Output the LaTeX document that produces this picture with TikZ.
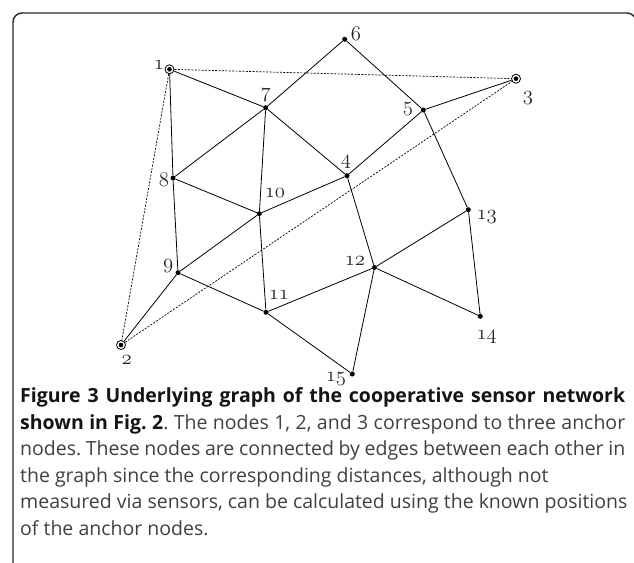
\documentclass[tikz,border=0pt]{standalone}
\usepackage{fontspec}
\newfontfamily\capfont{Open Sans}
\newcommand{\osn}[1]{{\fontsize{20}{24}\usefont{OML}{cmm}{m}{it}#1}}
\frenchspacing
\begin{document}
\begin{tikzpicture}[x=1pt,y=-1pt,
  sensor/.style={circle,fill=black,inner sep=0pt,minimum size=5pt},
  anchornode/.style={circle,draw=black,line width=0.8pt,inner sep=0pt,minimum size=9pt,
    path picture={\fill[black] (path picture bounding box.center) circle (2.3pt);}},
  lbl/.style={text=black!85, inner sep=0pt},
  edge/.style={line width=0.8pt},
  dedge/.style={line width=0.7pt, dash pattern=on 2pt off 1.4pt},
  capline/.style={anchor=base west, inner sep=0pt, font=\capfont\fontsize{19.5}{24}\selectfont\frenchspacing, text=black!75},
  frame/.style={line width=1.4pt, draw=black!85, rounded corners=9pt}]
\clip (0,0) rectangle (634,562);
\fill[white] (0,0) rectangle (634,562);
\draw[frame] (13,13) rectangle (636,640);

% nodes
\node[anchornode] (n1) at (169.5,69.3) {};
\node[anchornode] (n2) at (121,345) {};
\node[anchornode] (n3) at (516,78.7) {};
\node[sensor] (n4) at (347,175.7) {};
\node[sensor] (n5) at (423.3,110) {};
\node[sensor] (n6) at (344.7,39.3) {};
\node[sensor] (n7) at (265.7,107.7) {};
\node[sensor] (n8) at (173,178) {};
\node[sensor] (n9) at (178,272.7) {};
\node[sensor] (n10) at (259.3,213.7) {};
\node[sensor] (n11) at (266,312.3) {};
\node[sensor] (n12) at (374.5,267.5) {};
\node[sensor] (n13) at (468.3,209.7) {};
\node[sensor] (n14) at (480.3,316.3) {};
\node[sensor] (n15) at (352.3,374) {};

% labels
\node[lbl] (l1) at (159,65) {\osn{1}};
\node[lbl] (l2) at (126.7,360) {\osn{2}};
\node[lbl] (l3) at (528,98) {\osn{3}};
\node[lbl] (l4) at (346,162) {\osn{4}};
\node[lbl] (l5) at (408,109) {\osn{5}};
\node[lbl] (l6) at (356,34) {\osn{6}};
\node[lbl] (l7) at (265.7,95) {\osn{7}};
\node[lbl] (l8) at (164,180) {\osn{8}};
\node[lbl] (l9) at (168.3,266) {\osn{9}};
\node[lbl] (l10) at (275,193) {\osn{10}};
\node[lbl] (l11) at (279,295) {\osn{11}};
\node[lbl] (l12) at (355,261) {\osn{12}};
\node[lbl] (l13) at (486.7,217.3) {\osn{13}};
\node[lbl] (l14) at (486.7,336.7) {\osn{14}};
\node[lbl] (l15) at (336,379.5) {\osn{15}};

% dashed anchor edges
\draw[dedge] (n1) -- (n3);
\draw[dedge] (n1) -- (n2);
\draw[dedge] (n2) -- (n3);

% solid edges
\draw[edge] (n1) -- (n7);
\draw[edge] (n1) -- (n8);
\draw[edge] (n8) -- (n9);
\draw[edge] (n7) -- (n8);
\draw[edge] (n7) -- (n10);
\draw[edge] (n7) -- (n4);
\draw[edge] (n7) -- (n6);
\draw[edge] (n6) -- (n5);
\draw[edge] (n5) -- (n4);
\draw[edge] (n5) -- (n3);
\draw[edge] (n5) -- (n13);
\draw[edge] (n8) -- (n10);
\draw[edge] (n10) -- (n4);
\draw[edge] (n10) -- (n9);
\draw[edge] (n10) -- (n11);
\draw[edge] (n9) -- (n2);
\draw[edge] (n9) -- (n11);
\draw[edge] (n11) -- (n12);
\draw[edge] (n11) -- (n15);
\draw[edge] (n4) -- (n12);
\draw[edge] (n12) -- (n13);
\draw[edge] (n12) -- (n14);
\draw[edge] (n12) -- (n15);
\draw[edge] (n13) -- (n14);

% caption
\node[capline] (c1) at (20,402) {\makebox[605pt][s]{\bfseries\color{black!92}Figure 3 Underlying graph of the cooperative sensor network}};
\node[capline] (c2) at (20,429) {\makebox[605pt][s]{{\bfseries\color{black!92}shown in Fig. 2}. The nodes 1, 2, and 3 correspond to three anchor}};
\node[capline] (c3) at (20,455.5) {\makebox[605pt][s]{nodes. These nodes are connected by edges between each other in}};
\node[capline] (c4) at (20,482) {the graph since the corresponding distances, although not};
\node[capline] (c5) at (20,508.5) {measured via sensors, can be calculated using the known positions};
\node[capline] (c6) at (20,535) {of the anchor nodes.};
\end{tikzpicture}
\end{document}
